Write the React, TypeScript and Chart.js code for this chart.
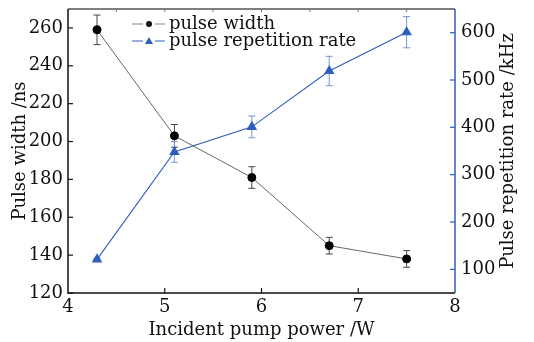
import React, { useEffect, useRef } from "react";
import { Chart, registerables } from "chart.js";

Chart.register(...registerables);

const pumpPower = [4.3, 5.1, 5.9, 6.7, 7.5];
const pulseWidth = [259, 203, 181, 145, 138];
const pulseWidthErr = [7.8, 6, 5.7, 4.4, 4.4];
const repRate = [121, 348, 401, 519, 601];
const repRateErr = [3, 22, 23, 31, 33];

const xTicks = [4, 5, 6, 7, 8];
const xTopTicks = [4.5, 5, 5.5, 6, 6.5, 7, 7.5];
const leftTicks = [120, 140, 160, 180, 200, 220, 240, 260];
const rightTicks = [100, 200, 300, 400, 500, 600];

const xTitle = "Incident pump power /W";
const leftTitle = "Pulse width /ns";
const rightTitle = "Pulse repetition rate /kHz";
const label1 = "pulse width";
const label2 = "pulse repetition rate";

const FONT = "'DejaVu Serif', serif";
const FS = 18;
const BLUE = "#2f5dbd";
const BLUE_ERR = "#7896d6";

const errorBars = {
  id: "errorBars",
  beforeDatasetsDraw(chart: any) {
    const ctx = chart.ctx;
    chart.data.datasets.forEach((ds: any, i: number) => {
      const ys = chart.scales[ds.yAxisID];
      const xs = chart.scales.x;
      ctx.save();
      ctx.strokeStyle = ds.errColor;
      ctx.lineWidth = 1;
      ds.data.forEach((p: any, j: number) => {
        const e = ds.errors[j];
        const x = xs.getPixelForValue(p.x);
        const y1 = ys.getPixelForValue(p.y + e);
        const y2 = ys.getPixelForValue(p.y - e);
        ctx.beginPath();
        ctx.moveTo(x, y1);
        ctx.lineTo(x, y2);
        ctx.moveTo(x - 3.5, y1);
        ctx.lineTo(x + 3.5, y1);
        ctx.moveTo(x - 3.5, y2);
        ctx.lineTo(x + 3.5, y2);
        ctx.stroke();
      });
      ctx.restore();
    });
  },
};

const frame = {
  id: "frame",
  afterDraw(chart: any) {
    const ctx = chart.ctx;
    const a = chart.chartArea;
    const xs = chart.scales.x;
    const yl = chart.scales.y;
    const yr = chart.scales.y1;
    ctx.save();
    // top border
    ctx.lineWidth = 1.5;
    ctx.strokeStyle = "#555";
    ctx.beginPath();
    ctx.moveTo(a.left, a.top);
    ctx.lineTo(a.right, a.top);
    ctx.stroke();
    ctx.lineWidth = 1;
    ctx.strokeStyle = "#777";
    xTopTicks.forEach((v) => {
      const x = xs.getPixelForValue(v);
      ctx.beginPath();
      ctx.moveTo(x, a.top);
      ctx.lineTo(x, a.top + 3);
      ctx.stroke();
    });
    // left border + ticks
    ctx.strokeStyle = "#111";
    ctx.lineWidth = 1.5;
    ctx.beginPath();
    ctx.moveTo(a.left, a.top);
    ctx.lineTo(a.left, a.bottom);
    ctx.lineTo(a.right, a.bottom);
    ctx.stroke();
    ctx.lineWidth = 1.2;
    leftTicks.forEach((v) => {
      const y = yl.getPixelForValue(v);
      ctx.beginPath();
      ctx.moveTo(a.left, y);
      ctx.lineTo(a.left + 5, y);
      ctx.stroke();
    });
    xTicks.forEach((v) => {
      if (v === xTicks[0] || v === xTicks[xTicks.length - 1]) return;
      const x = xs.getPixelForValue(v);
      ctx.beginPath();
      ctx.moveTo(x, a.bottom);
      ctx.lineTo(x, a.bottom - 5);
      ctx.stroke();
    });
    // right border + ticks
    ctx.strokeStyle = BLUE;
    ctx.lineWidth = 1.5;
    ctx.beginPath();
    ctx.moveTo(a.right, a.top);
    ctx.lineTo(a.right, a.bottom);
    ctx.stroke();
    ctx.lineWidth = 1.2;
    rightTicks.forEach((v) => {
      const y = yr.getPixelForValue(v);
      ctx.beginPath();
      ctx.moveTo(a.right, y);
      ctx.lineTo(a.right - 5, y);
      ctx.stroke();
    });
    // titles
    ctx.fillStyle = "#111";
    ctx.font = FS + "px " + FONT;
    ctx.textAlign = "center";
    ctx.textBaseline = "middle";
    ctx.fillText(xTitle, (a.left + a.right) / 2, 330);
    const cy = (a.top + a.bottom) / 2;
    ctx.save();
    ctx.translate(20, cy);
    ctx.rotate(-Math.PI / 2);
    ctx.fillText(leftTitle, 0, 0);
    ctx.restore();
    ctx.save();
    ctx.translate(508, cy);
    ctx.rotate(-Math.PI / 2);
    ctx.fillText(rightTitle, 0, 0);
    ctx.restore();
    // legend
    const rows = [
      { y: 24, label: label1, line: "#888", color: "#111", shape: "circle" },
      { y: 41, label: label2, line: BLUE, color: BLUE, shape: "triangle" },
    ];
    rows.forEach((r) => {
      ctx.strokeStyle = r.line;
      ctx.lineWidth = 1.2;
      ctx.beginPath();
      ctx.moveTo(132, r.y);
      ctx.lineTo(143, r.y);
      ctx.moveTo(155, r.y);
      ctx.lineTo(165, r.y);
      ctx.stroke();
      ctx.fillStyle = r.color;
      ctx.beginPath();
      if (r.shape === "circle") {
        ctx.arc(149, r.y, 3, 0, Math.PI * 2);
      } else {
        ctx.moveTo(149, r.y - 4);
        ctx.lineTo(153, r.y + 3);
        ctx.lineTo(145, r.y + 3);
        ctx.closePath();
      }
      ctx.fill();
      ctx.fillStyle = "#111";
      ctx.textAlign = "left";
      ctx.textBaseline = "alphabetic";
      ctx.fillText(r.label, 169, r.y + 5);
    });
    ctx.restore();
  },
};

export default function App() {
  const ref = useRef<HTMLCanvasElement>(null);
  useEffect(() => {
    const canvas = ref.current;
    if (!canvas) return;
    const tickFont = { family: FONT, size: FS };
    const chart = new Chart(canvas, {
      type: "line",
      data: {
        datasets: [
          {
            label: label1,
            data: pumpPower.map((x, i) => ({ x, y: pulseWidth[i] })),
            yAxisID: "y",
            borderColor: "#666",
            borderWidth: 1,
            backgroundColor: "#000",
            pointBackgroundColor: "#000",
            pointBorderColor: "#000",
            pointRadius: 4,
            pointStyle: "circle",
            tension: 0,
            errors: pulseWidthErr,
            errColor: "#444",
          } as any,
          {
            label: label2,
            data: pumpPower.map((x, i) => ({ x, y: repRate[i] })),
            yAxisID: "y1",
            borderColor: BLUE,
            borderWidth: 1.1,
            backgroundColor: BLUE,
            pointBackgroundColor: BLUE,
            pointBorderColor: BLUE,
            pointRadius: 5,
            pointStyle: "triangle",
            tension: 0,
            errors: repRateErr,
            errColor: BLUE_ERR,
          } as any,
        ],
      },
      options: {
        responsive: false,
        animation: false,
        layout: { padding: { top: 9, left: 0, right: 0, bottom: 0 } },
        plugins: { legend: { display: false }, tooltip: { enabled: false } },
        scales: {
          x: {
            type: "linear",
            position: "bottom",
            min: 4,
            max: 8,
            afterBuildTicks: (s: any) => {
              s.ticks = xTicks.map((v) => ({ value: v }));
            },
            afterFit: (s: any) => {
              s.height = 49;
              s.paddingLeft = 0;
              s.paddingRight = 0;
            },
            grid: { display: false, drawTicks: false },
            border: { display: false },
            ticks: { font: tickFont, color: "#111", padding: 4, maxRotation: 0 },
          },
          y: {
            type: "linear",
            position: "left",
            min: 120,
            max: 270,
            afterBuildTicks: (s: any) => {
              s.ticks = leftTicks.map((v) => ({ value: v }));
            },
            afterFit: (s: any) => {
              s.width = 68;
              s.paddingTop = 0;
              s.paddingBottom = 0;
            },
            grid: { display: false, drawTicks: false },
            border: { display: false },
            ticks: { font: tickFont, color: "#111", padding: 5 },
          },
          y1: {
            type: "linear",
            position: "right",
            min: 50,
            max: 650,
            afterBuildTicks: (s: any) => {
              s.ticks = rightTicks.map((v) => ({ value: v }));
            },
            afterFit: (s: any) => {
              s.width = 79;
              s.paddingTop = 0;
              s.paddingBottom = 0;
            },
            grid: { display: false, drawTicks: false },
            border: { display: false },
            ticks: { font: tickFont, color: "#111", padding: 6 },
          },
        },
      },
      plugins: [errorBars, frame],
    } as any);
    return () => chart.destroy();
  }, []);
  return (
    <div style={{ position: "fixed", left: 0, top: 0, width: 534, height: 342, background: "#fff" }}>
      <canvas ref={ref} width={534} height={342} style={{ width: 534, height: 342, display: "block" }} />
    </div>
  );
}
